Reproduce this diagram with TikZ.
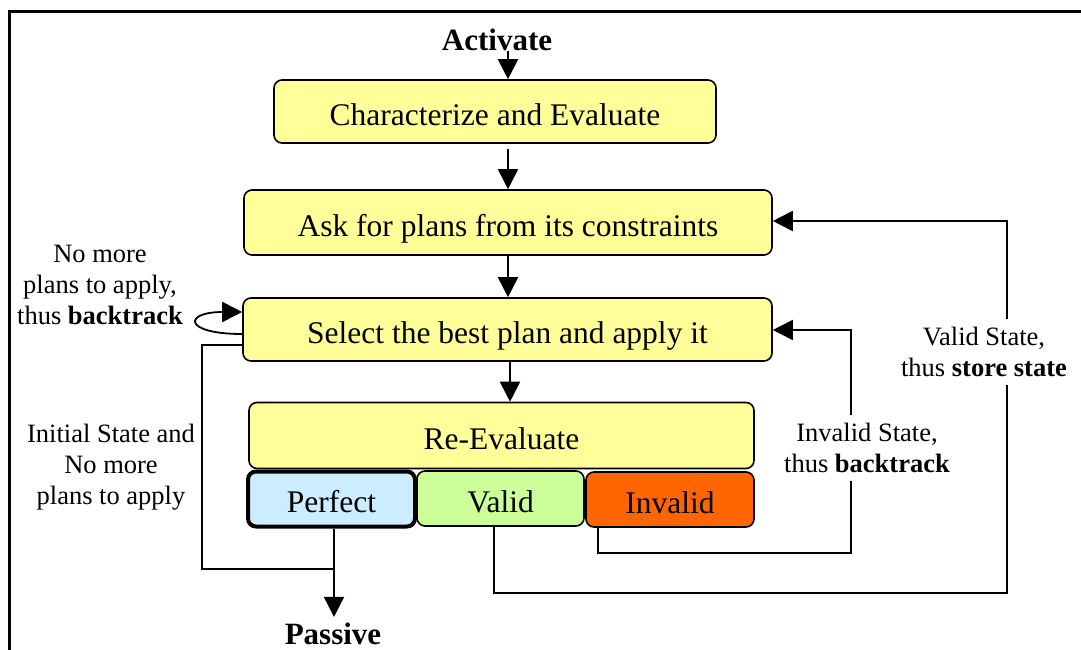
\documentclass[tikz,border=0pt]{standalone}
\usepackage{fontspec}
\setmainfont{Liberation Serif}
\usetikzlibrary{arrows.meta}
\definecolor{boxyellow}{RGB}{255,255,153}
\definecolor{perfectblue}{RGB}{204,236,255}
\definecolor{validgreen}{RGB}{204,255,153}
\definecolor{invalidorange}{RGB}{255,102,0}
\begin{document}
\begin{tikzpicture}[x=1pt,y=-1pt,
  stepbox/.style={draw, line width=1.6pt, rounded corners=8pt, fill=boxyellow,
    inner sep=0pt, text height=27pt, text depth=0pt,
    font=\fontsize{31.5}{36}\selectfont},
  statebox/.style={stepbox, minimum height=55pt},
  lbl/.style={align=center, font=\fontsize{26.5}{31}\selectfont, inner sep=2pt},
  gaplbl/.style={lbl, fill=white, inner ysep=8pt},
  endlbl/.style={font=\bfseries\fontsize{31}{36}\selectfont, inner sep=0pt},
  conn/.style={line width=1.8pt},
  arr/.style={conn, -{Triangle[length=20pt,width=20pt]}},
]
\useasboundingbox (0,0) rectangle (1081,650);
% frame
\draw[line width=3pt] (9,650) -- (9,12) -- (1081,12);

% main steps
\node[endlbl] (act) at (497,40) {Activate};
\node[stepbox, minimum width=442pt, minimum height=63pt] (char) at (495,111.5) {Characterize and Evaluate};
\node[stepbox, minimum width=528pt, minimum height=65pt] (ask) at (508,222.5) {Ask for plans from its constraints};
\node[stepbox, minimum width=529pt, minimum height=63pt] (sel) at (507.5,329.5) {Select the best plan and apply it};
\node[stepbox, minimum width=505pt, minimum height=66pt] (reev) at (501.5,435.5) {Re-Evaluate};
\node[statebox, fill=perfectblue, line width=4pt, minimum width=167pt] (perf) at (331.5,499) {Perfect};
\node[statebox, fill=validgreen, minimum width=167pt] (valid) at (500.5,498.5) {Valid};
\node[statebox, fill=invalidorange, minimum width=168pt] (inval) at (670,499.5) {Invalid};
\node[endlbl] (pas) at (333,634) {Passive};

% vertical flow
\coordinate (ax) at (508,0);
\coordinate (bx) at (510,0);
\draw[arr] (act.south -| ax) -- (char.north -| ax);
\draw[arr, shorten <=5pt] (char.south -| ax) -- (ask.north -| ax);
\draw[arr] (ask.south -| ax) -- (sel.north -| ax);
\draw[arr] (sel.south -| bx) -- (reev.north -| bx);

% to passive
\coordinate (join) at (334,569);
\draw[arr, shorten >=6pt] (perf.south -| join) -- (pas.north -| join);
\draw[conn] (sel.west |- 0,345) -- (202,345) -- (202,569) -- (join);

% self loop on selection
\draw[arr] (sel.west |- 0,334) .. controls (183,334) and (183,312) .. (sel.west |- 0,312);

% invalid: back to selection
\draw[arr] (inval.south -| 598,0) -- (598,553) -- (851,553) -- (851,330) -- (sel.east |- 0,330);
% valid: back to asking
\draw[arr] (valid.south -| 494,0) -- (494,593) -- (1007,593) -- (1007,221) -- (ask.east |- 0,221);

% labels
\node[lbl] (nomore) at (100,285) {No more\\plans to apply,\\thus \textbf{backtrack}};
\node[lbl] (initial) at (111,467) {Initial State and\\No more\\plans to apply};
\node[gaplbl] (invlbl) at (867,448) {Invalid State,\\thus \textbf{backtrack}};
\node[gaplbl] (vallbl) at (984,352) {Valid State,\\thus \textbf{store state}};
\end{tikzpicture}
\end{document}
